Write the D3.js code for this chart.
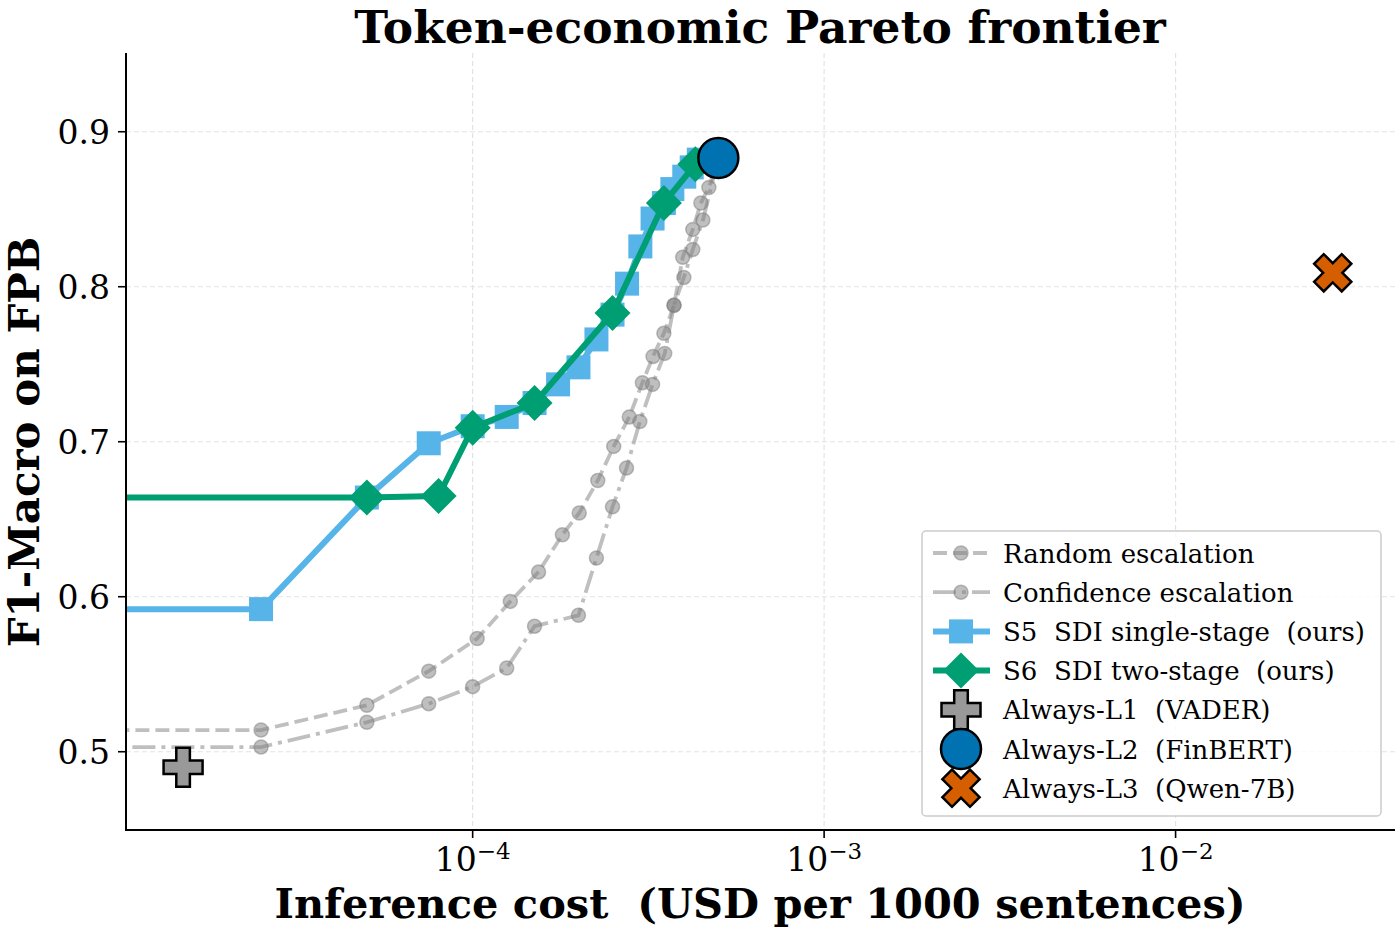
<!DOCTYPE html>
<html lang="en">
<head>
<meta charset="UTF-8">
<title>Token-economic Pareto frontier</title>
<script src="https://cdn.jsdelivr.net/npm/d3@7"></script>
<style>
  body { margin: 0; background: #fff; }
  svg text { font-family: "DejaVu Serif", serif; fill: #000; }
</style>
</head>
<body>
<svg id="chart" width="1400" height="934"></svg>
<script>
// data
const randCost = [5e-6, 2.5e-5, 5.0e-5, 7.5e-5, 1.03e-4, 1.28e-4, 1.54e-4, 1.8e-4, 2.01e-4, 2.27e-4, 2.52e-4, 2.79e-4, 3.04e-4, 3.26e-4, 3.5e-4, 3.74e-4, 3.96e-4, 4.23e-4, 4.46e-4, 4.7e-4, 5e-4];
const randF1   = [0.514, 0.514, 0.530, 0.552, 0.573, 0.597, 0.616, 0.640, 0.654, 0.675, 0.697, 0.716, 0.738, 0.755, 0.770, 0.788, 0.819, 0.837, 0.854, 0.864, 0.883];

const confCost = [5e-6, 2.5e-5, 5.0e-5, 7.5e-5, 1.0e-4, 1.25e-4, 1.5e-4, 2.0e-4, 2.25e-4, 2.5e-4, 2.74e-4, 2.99e-4, 3.25e-4, 3.52e-4, 3.74e-4, 3.99e-4, 4.23e-4, 4.52e-4, 5e-4];
const confF1   = [0.503, 0.503, 0.519, 0.531, 0.542, 0.554, 0.581, 0.588, 0.625, 0.658, 0.683, 0.713, 0.737, 0.757, 0.788, 0.806, 0.824, 0.843, 0.883];

const s5Cost = [5e-6, 2.5e-5, 5e-5, 7.5e-5, 1.0e-4, 1.25e-4, 1.5e-4, 1.75e-4, 2.0e-4, 2.25e-4, 2.5e-4, 2.75e-4, 3.0e-4, 3.25e-4, 3.5e-4, 3.7e-4, 4.0e-4, 4.2e-4, 4.4e-4, 5e-4];
const s5F1   = [0.592, 0.592, 0.664, 0.699, 0.710, 0.716, 0.725, 0.737, 0.748, 0.766, 0.782, 0.802, 0.826, 0.844, 0.854, 0.863, 0.871, 0.877, 0.882, 0.883];

const s6Cost = [5e-6, 5e-5, 8e-5, 1.0e-4, 1.5e-4, 2.5e-4, 3.5e-4, 4.3e-4, 5e-4];
const s6F1   = [0.664, 0.664, 0.665, 0.709, 0.725, 0.783, 0.854, 0.879, 0.883];

const baseNames = ["Always-L1  (VADER)", "Always-L2  (FinBERT)", "Always-L3  (Qwen-7B)"];
const baseCost  = [1.5e-5, 5e-4, 0.028];
const baseF1    = [0.490, 0.883, 0.809];

const yTicks = [0.5, 0.6, 0.7, 0.8, 0.9];
const xTicks = [1e-4, 1e-3, 1e-2];

const svg = d3.select("#chart");
const L = 126, R = 1395, T = 53, B = 830;

const x = d3.scaleLog().domain([1.032e-5, 0.0421]).range([L, R]);
const y = d3.scaleLinear().domain([0.4495, 0.9508]).range([B, T]);

svg.append("clipPath").attr("id", "plotclip")
  .append("rect").attr("x", L).attr("y", T).attr("width", R - L).attr("height", B - T);

// grid
const grid = svg.append("g");
grid.selectAll(".gx").data(xTicks).enter().append("line")
  .attr("x1", d => x(d)).attr("x2", d => x(d)).attr("y1", T).attr("y2", B)
  .attr("stroke", "#e3e3e3").attr("stroke-width", 1.2).attr("stroke-dasharray", "5,3");
grid.selectAll(".gy").data(yTicks).enter().append("line")
  .attr("x1", L).attr("x2", R).attr("y1", d => y(d)).attr("y2", d => y(d))
  .attr("stroke", "#e3e3e3").attr("stroke-width", 1.2).attr("stroke-dasharray", "5,3");

const plot = svg.append("g").attr("clip-path", "url(#plotclip)");
const zip = (a, b) => a.map((v, i) => [v, b[i]]);
const line = d3.line().x(d => x(d[0])).y(d => y(d[1]));

// escalation baselines (gray, half transparent)
function grayRun(cost, f1, dash) {
  const pts = zip(cost, f1);
  plot.append("path").attr("d", line(pts)).attr("fill", "none")
    .attr("stroke", "#808080").attr("stroke-opacity", 0.5).attr("stroke-width", 3.8)
    .attr("stroke-dasharray", dash);
  plot.append("g").selectAll("circle").data(pts).enter().append("circle")
    .attr("cx", d => x(d[0])).attr("cy", d => y(d[1])).attr("r", 7)
    .attr("fill", "#808080").attr("fill-opacity", 0.5)
    .attr("stroke", "#808080").attr("stroke-opacity", 0.5).attr("stroke-width", 1.5);
}
grayRun(randCost, randF1, "14,6");
grayRun(confCost, confF1, "23,6,4,6");

// S5
const sq = 12;
const s5 = zip(s5Cost, s5F1);
plot.append("path").attr("d", line(s5)).attr("fill", "none")
  .attr("stroke", "#56B4E9").attr("stroke-width", 6).attr("stroke-linejoin", "round");
plot.append("g").selectAll("rect").data(s5).enter().append("rect")
  .attr("x", d => x(d[0]) - sq).attr("y", d => y(d[1]) - sq)
  .attr("width", 2 * sq).attr("height", 2 * sq).attr("fill", "#56B4E9");

// S6
const s6 = zip(s6Cost, s6F1);
const diamond = "M0,-18L18,0L0,18L-18,0Z";
plot.append("path").attr("d", line(s6)).attr("fill", "none")
  .attr("stroke", "#009E73").attr("stroke-width", 6).attr("stroke-linejoin", "round");
plot.append("g").selectAll("path").data(s6).enter().append("path")
  .attr("d", diamond).attr("transform", d => `translate(${x(d[0])},${y(d[1])})`)
  .attr("fill", "#009E73");

// markers for single-tier baselines
const s = 19.5, a = 6.8;
const plusPath = `M${-a},${-s}H${a}V${-a}H${s}V${a}H${a}V${s}H${-a}V${a}H${-s}V${-a}H${-a}Z`;
const baseFill = ["#999999", "#0072B2", "#D55E00"];
function baseMarker(g, i, cx, cy) {
  if (i === 1) {
    g.append("circle").attr("cx", cx).attr("cy", cy).attr("r", 20)
      .attr("fill", baseFill[i]).attr("stroke", "#000").attr("stroke-width", 2.5);
  } else {
    g.append("path").attr("d", plusPath)
      .attr("transform", `translate(${cx},${cy}) rotate(${i === 2 ? 45 : 0})`)
      .attr("fill", baseFill[i]).attr("stroke", "#000").attr("stroke-width", 2.5)
      .attr("stroke-linejoin", "miter");
  }
}
baseCost.forEach((c, i) => baseMarker(plot, i, x(c), y(baseF1[i])));

// axes
const ax = svg.append("g");
ax.append("line").attr("x1", L).attr("x2", L).attr("y1", T).attr("y2", B + 1)
  .attr("stroke", "#000").attr("stroke-width", 2);
ax.append("line").attr("x1", L - 1).attr("x2", R).attr("y1", B).attr("y2", B)
  .attr("stroke", "#000").attr("stroke-width", 2);

ax.selectAll(".ty").data(yTicks).enter().append("line")
  .attr("x1", L - 8).attr("x2", L).attr("y1", d => y(d)).attr("y2", d => y(d))
  .attr("stroke", "#000").attr("stroke-width", 1.6);
ax.selectAll(".ly").data(yTicks).enter().append("text")
  .attr("x", L - 16).attr("y", d => y(d) + 12).attr("text-anchor", "end")
  .attr("font-size", 33).text(d => d3.format(".1f")(d));

ax.selectAll(".tx").data(xTicks).enter().append("line")
  .attr("x1", d => x(d)).attr("x2", d => x(d)).attr("y1", B).attr("y2", B + 8)
  .attr("stroke", "#000").attr("stroke-width", 1.6);
const xl = ax.selectAll(".lx").data(xTicks).enter().append("text")
  .attr("x", d => x(d)).attr("y", 871).attr("text-anchor", "middle").attr("font-size", 33);
xl.append("tspan").text("10");
xl.append("tspan").attr("font-size", 23).attr("dy", -12)
  .text(d => "\u2212" + Math.round(-Math.log10(d)));

// titles
svg.append("text").attr("x", 760).attr("y", 43).attr("text-anchor", "middle")
  .attr("font-size", 45.5).attr("font-weight", "bold").text("Token-economic Pareto frontier");
svg.append("text").attr("x", 760).attr("y", 918).attr("text-anchor", "middle")
  .attr("font-size", 41.5).attr("font-weight", "bold")
  .style("white-space", "pre").text("Inference cost  (USD per 1000 sentences)");
svg.append("text").attr("transform", "translate(39,442) rotate(-90)").attr("text-anchor", "middle")
  .attr("font-size", 42).attr("font-weight", "bold").text("F1-Macro on FPB");

// legend
const lg = svg.append("g");
lg.append("rect").attr("x", 922).attr("y", 531).attr("width", 459).attr("height", 285)
  .attr("rx", 4).attr("fill", "#fff").attr("fill-opacity", 0.8)
  .attr("stroke", "#cccccc").attr("stroke-width", 1.5);
const rowY = i => 553 + i * 39.2;
const legLabels = ["Random escalation", "Confidence escalation",
  "S5  SDI single-stage  (ours)", "S6  SDI two-stage  (ours)"].concat(baseNames);
const hx0 = 933, hx1 = 990, hc = 961;

[["14,6", 0], ["23,6,4,6", 1]].forEach(([dash, i]) => {
  lg.append("line").attr("x1", hx0).attr("x2", hx1).attr("y1", rowY(i)).attr("y2", rowY(i))
    .attr("stroke", "#808080").attr("stroke-opacity", 0.5).attr("stroke-width", 3.8)
    .attr("stroke-dasharray", dash);
  lg.append("circle").attr("cx", hc).attr("cy", rowY(i)).attr("r", 7)
    .attr("fill", "#808080").attr("fill-opacity", 0.5)
    .attr("stroke", "#808080").attr("stroke-opacity", 0.5).attr("stroke-width", 1.5);
});
lg.append("line").attr("x1", hx0).attr("x2", hx1).attr("y1", rowY(2)).attr("y2", rowY(2))
  .attr("stroke", "#56B4E9").attr("stroke-width", 6);
lg.append("rect").attr("x", hc - sq).attr("y", rowY(2) - sq).attr("width", 2 * sq).attr("height", 2 * sq)
  .attr("fill", "#56B4E9");
lg.append("line").attr("x1", hx0).attr("x2", hx1).attr("y1", rowY(3)).attr("y2", rowY(3))
  .attr("stroke", "#009E73").attr("stroke-width", 6);
lg.append("path").attr("d", diamond).attr("transform", `translate(${hc},${rowY(3)})`)
  .attr("fill", "#009E73");
baseNames.forEach((n, i) => baseMarker(lg, i, hc, rowY(4 + i)));

lg.selectAll(".lt").data(legLabels).enter().append("text")
  .attr("x", 1003).attr("y", (d, i) => rowY(i) + 9.5)
  .attr("font-size", 26).style("white-space", "pre").text(d => d);
</script>
</body>
</html>
